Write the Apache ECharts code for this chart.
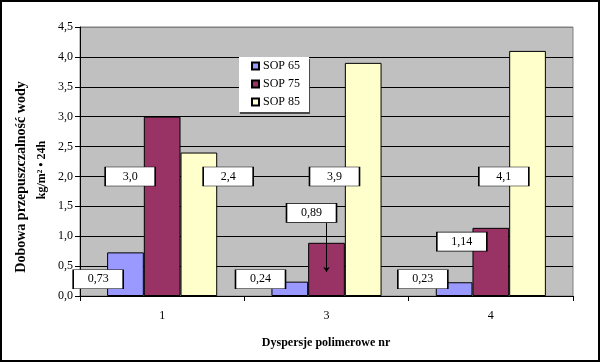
<!DOCTYPE html>
<html>
<head>
<meta charset="utf-8">
<script src="https://cdn.jsdelivr.net/npm/echarts@6/dist/echarts.min.js"></script>
<style>
html,body{margin:0;padding:0;background:#fff;}
#chart{width:600px;height:362px;}
</style>
</head>
<body>
<div id="chart"></div>
<script>
// ---- data ----
var categories = ['1', '3', '4'];
var seriesNames = ['SOP 65', 'SOP 75', 'SOP 85'];
var sop65 = [0.73, 0.24, 0.23];
var sop75 = [3.0, 0.89, 1.14];
var sop85 = [2.4, 3.9, 4.1];
var yTicks = [0, 0.5, 1.0, 1.5, 2.0, 2.5, 3.0, 3.5, 4.0, 4.5];
var yTitle1 = 'Dobowa przepuszczalność wody';
var yTitle2 = 'kg/m² • 24h';
var xTitle = 'Dyspersje polimerowe nr';

// ---- label box placement (annotation layout, not data) ----
// [seriesIndex, categoryIndex, y-level of box centre, horizontal pixel offset from category centre]
var labelLayout = [
  [0, 0, 0.28, -64], [1, 0, 2.0, -32], [2, 0, 2.0, 66],
  [0, 1, 0.28, -66], [1, 1, 1.39, -15], [2, 1, 2.0, 8],
  [0, 2, 0.28, -68], [1, 2, 0.91, -29], [2, 2, 2.0, 13]
];
var arrowFrom = 1.22, arrowTo = 0.40; // leader arrow for the 0,89 label

var allSeries = [sop65, sop75, sop85];
var colors = ['#9999ff', '#993366', '#ffffcc'];
var serif = '"Liberation Serif", "Times New Roman", serif';

function fmt(v) {
  var s = String(v);
  if (s.indexOf('.') < 0) s += '.0';
  return s.replace('.', ',');
}

var markData = labelLayout.map(function (l) {
  var v = allSeries[l[0]][l[1]];
  return {
    coord: [categories[l[1]], l[2]],
    symbolOffset: [l[3], 0],
    label: { formatter: fmt(v) }
  };
});

var chart = echarts.init(document.getElementById('chart'), null, {renderer: 'canvas'});

var series = seriesNames.map(function (name, i) {
  return {
    name: name,
    type: 'bar',
    data: allSeries[i],
    barGap: '0%',
    barCategoryGap: '33%',
    z: 2,
    itemStyle: { color: colors[i], borderColor: '#000', borderWidth: 1 }
  };
});

// middle series sits on the category centre, so markers are placed relative to it
series[1].markLine = {
  silent: true,
  symbol: ['none', 'arrow'],
  symbolSize: 5,
  label: { show: false },
  lineStyle: { color: '#000', width: 1, type: 'solid' },
  data: [[{ coord: [categories[1], arrowFrom] }, { coord: [categories[1], arrowTo] }]]
};

series[1].markPoint = {
  silent: true,
  symbol: 'rect',
  symbolSize: [50, 19],
  itemStyle: { color: '#fff', borderColor: '#000', borderWidth: 1 },
  label: { show: true, color: '#000', fontFamily: serif, fontSize: 12, position: 'inside' },
  data: markData
};

var splitColors = yTicks.map(function (t, i) { return i === yTicks.length - 1 ? '#808080' : '#000'; });

chart.setOption({
  animation: false,
  backgroundColor: '#fff',
  grid: {
    left: 80, right: 27, top: 27, bottom: 66,
    show: true, backgroundColor: '#c0c0c0', borderColor: '#808080', borderWidth: 1
  },
  legend: {
    orient: 'vertical',
    left: 239, top: 57,
    data: seriesNames,
    backgroundColor: '#fff',
    padding: [3, 9, 4, 12],
    itemGap: 6,
    itemWidth: 7, itemHeight: 7,
    icon: 'rect',
    shadowColor: 'rgba(60,60,60,0.9)', shadowBlur: 0, shadowOffsetX: 1, shadowOffsetY: 2,
    textStyle: { fontFamily: serif, fontSize: 12, color: '#000', padding: [0, 0, 0, -1] }
  },
  xAxis: {
    type: 'category',
    data: categories,
    axisLine: { lineStyle: { color: '#000', width: 1 } },
    axisTick: { show: true, length: 5, lineStyle: { color: '#000' } },
    axisLabel: { fontFamily: serif, fontSize: 12, color: '#000', margin: 14 },
    splitLine: { show: false }
  },
  yAxis: {
    type: 'value',
    min: 0, max: 4.5, interval: 0.5,
    axisLine: { show: true, lineStyle: { color: '#000', width: 1 } },
    axisTick: { show: true, length: 5, lineStyle: { color: '#000' } },
    axisLabel: {
      fontFamily: serif, fontSize: 12, color: '#000', margin: 7,
      formatter: function (v) { return v.toFixed(1).replace('.', ','); }
    },
    splitLine: { show: true, lineStyle: { color: splitColors, width: 1 } }
  },
  graphic: [
    {
      type: 'text', rotation: Math.PI / 2,
      x: 21, y: 177,
      style: { text: yTitle1, fontFamily: serif, fontSize: 14, fontWeight: 'bold', fill: '#000', align: 'center', verticalAlign: 'middle' }
    },
    {
      type: 'text', rotation: Math.PI / 2,
      x: 42, y: 170,
      style: { text: yTitle2, fontFamily: serif, fontSize: 12, fontWeight: 'bold', fill: '#000', align: 'center', verticalAlign: 'middle' }
    },
    {
      type: 'text', x: 326, y: 343,
      style: { text: xTitle, fontFamily: serif, fontSize: 12, fontWeight: 'bold', fill: '#000', align: 'center', verticalAlign: 'middle' }
    },
    {
      type: 'rect', shape: { x: 1, y: 1, width: 598, height: 360 },
      style: { fill: 'none', stroke: '#000', lineWidth: 2 }, silent: true
    }
  ],
  series: series
});
</script>
</body>
</html>
